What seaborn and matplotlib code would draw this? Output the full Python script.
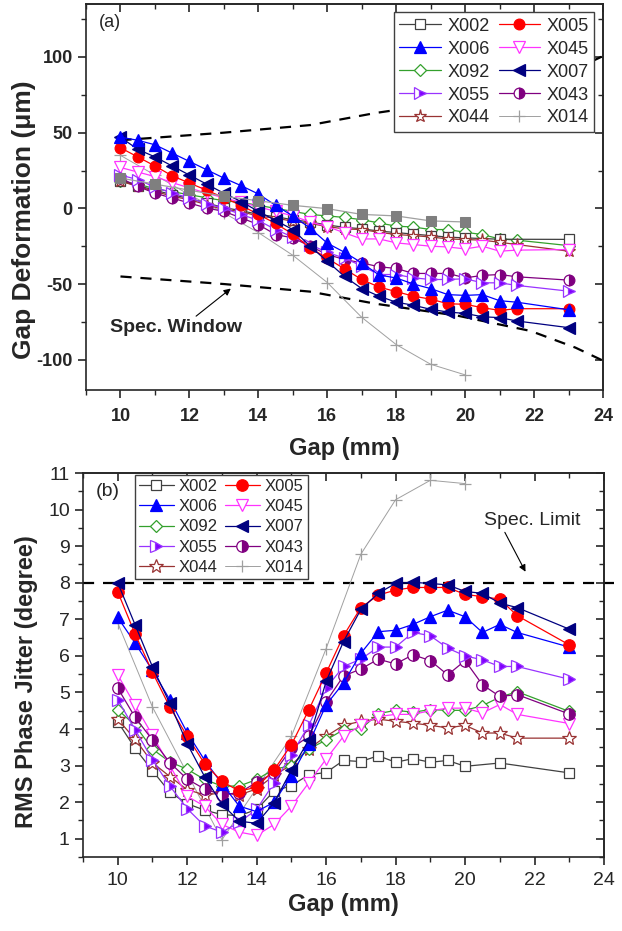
import matplotlib
matplotlib.use('Agg')
import matplotlib.pyplot as plt
from matplotlib.ticker import MultipleLocator
import numpy as np
import seaborn as sns

sns.set_style('ticks')
plt.rcParams['font.family'] = ['Liberation Sans', 'DejaVu Sans']
plt.rcParams['axes.unicode_minus'] = False

# gap positions (mm)
gap = [10, 10.5, 11, 11.5, 12, 12.5, 13, 13.5, 14, 14.5, 15, 15.5, 16, 16.5,
       17, 17.5, 18, 18.5, 19, 19.5, 20, 20.5, 21, 21.5, 23]
gap_x002 = [10, 10.5, 11, 11.5, 12, 12.5, 13, 13.5, 14, 14.5, 15, 15.5, 16, 16.5,
            17, 17.5, 18, 18.5, 19, 19.5, 20, 21, 23]
gap_x014 = [10, 11, 12, 13, 14, 15, 16, 17, 18, 19, 20]
gap_x014_b = [10, 11, 13, 15, 16, 17, 18, 19, 20]
gap_extra = [10, 11, 12, 13, 14, 15, 16, 17, 18, 19, 20]

# (a) gap deformation (um)
def_x002 = [18, 15, 12, 9, 6.5, 3.5, 0.5, -1.5, -4, -5.5, -7.5, -9, -11, -12.5,
            -13.5, -15, -16, -17, -18, -19, -19.5, -20.4, -20.5]
def_x005 = [40, 34, 28, 21.5, 16.7, 12, 7, 2, -4, -10, -17, -26, -33, -40, -47,
            -52, -55, -58, -60, -63, -63.4, -65.6, -67.4, -66.3, -66.3]
def_x006 = [47, 45, 42, 36.5, 31, 25.5, 20, 15, 9.5, 2, -5, -13, -23, -29, -36,
            -44, -46, -50, -53, -57, -57.5, -57, -61, -62, -67]
def_x045 = [27, 24, 21, 17, 13.5, 10, 7, 4, 1, -2, -5, -9, -12, -16.2, -20.2,
            -20.2, -22.8, -23.9, -25, -25.5, -26.8, -25, -28.3, -27.6, -27.2]
def_x092 = [18, 16, 13, 11, 9, 7, 5, 4, 2, 0, -2, -4, -5, -6, -7.5, -9.6, -11.8,
            -12.3, -14, -14, -15.8, -17.3, -20.2, -21, -24.6]
def_x007 = [47, 39, 34, 28, 22, 16, 10, 4.5, -2, -8, -14, -25, -35, -45, -53,
            -58, -62, -64, -66.7, -68.5, -69.4, -71.6, -72.2, -74.4, -78.8]
def_x055 = [22, 19, 14, 10, 7, 3, 0, -4, -8, -14, -19, -24, -29, -33, -38, -43.7,
            -43.7, -45.9, -47, -47, -46.5, -49.2, -49.2, -50.9, -54.7]
def_x043 = [20, 14.5, 10, 6.8, 3.5, 0.2, -2, -6.3, -10.7, -17.3, -19.5, -25,
            -30.5, -33.8, -36, -38.6, -39.7, -43, -43, -43, -45.9, -44.3, -43.7,
            -45.2, -47.4]
def_x044 = [18, 14.5, 11.2, 8, 5.7, 2.4, -0.9, -2, -5.3, -6.3, -8.6, -10, -12,
            -13.6, -14, -15.8, -17.3, -18, -18.9, -20.2, -20.6, -21, -22.4, -23.9,
            -28.3]
def_x014 = [35, 22, 9, -3, -16, -31, -49, -72, -90, -103, -110]
def_extra = [20, 16, 12, 8, 5, 2, -0.2, -4, -5, -8.3, -9]

# spec window (a)
spec_gap = [10, 13, 15.5, 17.4, 19.8, 21.9, 23.2, 24.5]
spec_lo = [-45, -50, -55, -63, -71, -81, -92, -106]
spec_hi = [-v for v in spec_lo]

# (b) RMS phase jitter (degree)
jit_x002 = [4.2, 3.47, 2.86, 2.27, 1.96, 1.78, 1.66, 1.63, 1.8, 2.3, 2.45, 2.75,
            2.81, 3.14, 3.11, 3.27, 3.09, 3.19, 3.09, 3.14, 2.98, 3.07, 2.8]
jit_x005 = [7.75, 6.6, 5.55, 4.6, 3.8, 3.05, 2.57, 2.3, 2.41, 2.88, 3.57, 4.52,
            5.53, 6.55, 7.32, 7.66, 7.8, 7.87, 7.87, 7.87, 7.68, 7.62, 7.55, 7.1, 6.3]
jit_x006 = [7.05, 6.35, 5.6, 4.8, 3.9, 3.15, 2.5, 1.89, 1.74, 2.0, 2.72, 3.6,
            4.66, 5.26, 6.07, 6.66, 6.7, 6.86, 7.07, 7.25, 7.07, 6.64, 6.86, 6.64, 6.24]
jit_x045 = [5.48, 4.65, 3.83, 3.0, 2.16, 1.89, 1.39, 1.18, 1.09, 1.39, 1.89, 2.53,
            3.18, 3.8, 4.1, 4.34, 4.4, 4.4, 4.5, 4.57, 4.57, 4.44, 4.67, 4.4, 4.15]
jit_x092 = [4.53, 4.1, 3.45, 3.1, 2.9, 2.62, 2.44, 2.44, 2.62, 2.9, 3.0, 3.45,
            3.7, 3.98, 4.0, 4.42, 4.51, 4.46, 4.53, 4.51, 4.51, 4.64, 4.87, 5.02, 4.48]
jit_x007 = [8.0, 6.85, 5.7, 4.7, 3.6, 2.7, 1.94, 1.48, 1.42, 1.98, 2.88, 3.7,
            5.3, 6.39, 7.27, 7.71, 7.98, 8.01, 7.98, 7.94, 7.76, 7.71, 7.44, 7.32, 6.73]
jit_x055 = [4.8, 3.98, 3.16, 2.44, 1.82, 1.35, 1.18, 1.45, 1.8, 2.53, 3.3, 4.1,
            5.12, 5.71, 5.91, 6.24, 6.24, 6.64, 6.55, 6.21, 6.0, 5.89, 5.71, 5.71, 5.36]
jit_x043 = [5.12, 4.32, 3.7, 3.08, 2.63, 2.36, 2.2, 2.26, 2.54, 2.8, 3.47, 3.8,
            4.75, 5.45, 5.64, 5.91, 5.78, 6.03, 5.87, 5.48, 5.87, 5.21, 4.89, 4.94, 4.41]
jit_x044 = [4.27, 3.72, 3.08, 2.7, 2.34, 2.2, 2.25, 2.2, 2.36, 2.73, 3.02, 3.46,
            3.8, 4.1, 4.21, 4.27, 4.21, 4.16, 4.1, 4.03, 4.1, 3.89, 3.89, 3.75, 3.75]
jit_x014 = [6.9, 4.6, 0.97, 3.8, 6.2, 8.78, 10.27, 10.8, 10.71]
spec_limit = 8

# style of each sample
styles = {
    'X002': dict(color='#404040', marker='s', mfc='white', fs='full', ms=1.0),
    'X005': dict(color='#FF0000', marker='o', mfc='#FF0000', fs='full', ms=1.1),
    'X006': dict(color='#0000FF', marker='^', mfc='#0000FF', fs='full', ms=1.15),
    'X045': dict(color='#FF33FF', marker='v', mfc='white', fs='full', ms=1.15),
    'X092': dict(color='#33A02C', marker='D', mfc='white', fs='full', ms=0.85),
    'X007': dict(color='#000080', marker='<', mfc='#000080', fs='full', ms=1.15),
    'X055': dict(color='#9933FF', marker='>', mfc='#8000FF', fs='right', ms=1.15),
    'X043': dict(color='#800080', marker='o', mfc='#800080', fs='right', ms=1.1),
    'X044': dict(color='#993333', marker='*', mfc='white', fs='full', ms=1.35),
    'X014': dict(color='#A0A0A0', marker='+', mfc='#A0A0A0', fs='full', ms=1.2),
}
order = ['X002', 'X006', 'X092', 'X055', 'X044', 'X005', 'X045', 'X007', 'X043', 'X014']


def draw(ax, name, x, y, size):
    s = styles[name]
    lw_line = 0.7 if name == 'X014' else 0.9
    sns.lineplot(x=x, y=y, ax=ax, color=s['color'], linewidth=lw_line,
                 marker=s['marker'], markersize=size * s['ms'],
                 markerfacecolor=s['mfc'], markeredgecolor=s['color'],
                 markerfacecoloralt='white', fillstyle=s['fs'],
                 markeredgewidth=0.9, label=name, sort=False, estimator=None)


def mirror_ticks(ax, xmaj, xmin, ymaj, ymin):
    ax.xaxis.set_major_locator(MultipleLocator(xmaj))
    ax.xaxis.set_minor_locator(MultipleLocator(xmin))
    ax.yaxis.set_major_locator(MultipleLocator(ymaj))
    ax.yaxis.set_minor_locator(MultipleLocator(ymin))
    ax.tick_params(which='major', direction='out', length=6, width=1.2)
    ax.tick_params(which='minor', direction='out', length=3.5, width=1.0)
    top = ax.secondary_xaxis('top')
    right = ax.secondary_yaxis('right')
    top.xaxis.set_major_locator(MultipleLocator(xmaj))
    top.xaxis.set_minor_locator(MultipleLocator(xmin))
    right.yaxis.set_major_locator(MultipleLocator(ymaj))
    right.yaxis.set_minor_locator(MultipleLocator(ymin))
    for sec in (top, right):
        sec.tick_params(which='major', direction='in', length=6, width=1.2,
                        labeltop=False, labelright=False)
        sec.tick_params(which='minor', direction='in', length=3.5, width=1.0)
        for sp in sec.spines.values():
            sp.set_linewidth(1.2)
    for sp in ax.spines.values():
        sp.set_visible(True)
        sp.set_linewidth(1.2)


fig = plt.figure(figsize=(6.22, 9.31), dpi=100)
ax1 = fig.add_axes([86 / 622, 1 - 390 / 931, 517 / 622, 386 / 931])
ax2 = fig.add_axes([83 / 622, 1 - 857 / 931, 521 / 622, 384 / 931])

# ---------------- (a) ----------------
data_a = {'X002': (gap_x002, def_x002), 'X005': (gap, def_x005),
          'X006': (gap, def_x006), 'X045': (gap, def_x045),
          'X092': (gap, def_x092), 'X007': (gap, def_x007),
          'X055': (gap, def_x055), 'X043': (gap, def_x043),
          'X044': (gap, def_x044), 'X014': (gap_x014, def_x014)}
ax1.plot(spec_gap, spec_lo, ls=(0, (5, 4)), color='black', lw=1.6, zorder=1)
ax1.plot(spec_gap, spec_hi, ls=(0, (5, 4)), color='black', lw=1.6, zorder=1)
for name in ['X014', 'X092', 'X002', 'X044', 'X045', 'X043', 'X055', 'X005', 'X007', 'X006']:
    draw(ax1, name, *data_a[name], size=7)
sns.lineplot(x=gap_extra, y=def_extra, ax=ax1, color='#A0A0A0', linewidth=0.9,
             marker='s', markersize=7, markerfacecolor='#7F7F7F',
             markeredgecolor='#7F7F7F', legend=False, sort=False, estimator=None)

ax1.set_xlim(9, 24)
ax1.set_ylim(-120, 135)
mirror_ticks(ax1, 2, 1, 50, 25)
ax1.tick_params(axis='x', which='major', pad=7)
for lab in ax1.get_xticklabels() + ax1.get_yticklabels():
    lab.set_fontweight('bold')
ax1.tick_params(labelsize=13)
ax1.set_xlabel('Gap (mm)', fontsize=17, fontweight='bold')
ax1.set_ylabel('Gap Deformation (μm)', fontsize=19, fontweight='bold')
ax1.xaxis.set_label_coords(0.5, -0.122)
ax1.yaxis.set_label_coords(-0.097, 0.44)
ax1.text(0.025, 0.975, '(a)', transform=ax1.transAxes, fontsize=13, va='top')
ax1.annotate('Spec. Window', xy=(13.2, -53), xytext=(9.7, -79), fontsize=14,
             fontweight='bold', va='center',
             arrowprops=dict(arrowstyle='-|>', color='black', lw=0.8,
                             shrinkA=0, shrinkB=0, mutation_scale=10,
                             relpos=(0.62, 1.0)))
h1, l1 = ax1.get_legend_handles_labels()
hd = dict(zip(l1, h1))
leg = ax1.legend([hd[n] for n in order], order, ncol=2, loc='upper right',
                 bbox_to_anchor=(0.99, 0.988), fontsize=13, frameon=True,
                 fancybox=False, edgecolor='#404040', framealpha=1.0,
                 handlelength=2.3, handletextpad=0.35, columnspacing=0.5,
                 labelspacing=0.33, borderpad=0.3, borderaxespad=0.2)
leg.get_frame().set_linewidth(1.0)

# ---------------- (b) ----------------
data_b = {'X002': (gap_x002, jit_x002), 'X005': (gap, jit_x005),
          'X006': (gap, jit_x006), 'X045': (gap, jit_x045),
          'X092': (gap, jit_x092), 'X007': (gap, jit_x007),
          'X055': (gap, jit_x055), 'X043': (gap, jit_x043),
          'X044': (gap, jit_x044), 'X014': (gap_x014_b, jit_x014)}
ax2.axhline(spec_limit, xmin=0, xmax=1.02, ls=(0, (5, 4)), color='black',
            lw=1.6, zorder=1, clip_on=False)
for name in ['X014', 'X002', 'X044', 'X092', 'X045', 'X043', 'X055', 'X006', 'X005', 'X007']:
    draw(ax2, name, *data_b[name], size=7.5)
ax2.set_xlim(9, 24)
ax2.set_ylim(0.5, 11)
mirror_ticks(ax2, 2, 1, 1, 0.5)
ax2.tick_params(labelsize=14)
ax2.tick_params(axis='x', which='major', pad=5)
ax2.set_xlabel('Gap (mm)', fontsize=17, fontweight='bold')
ax2.set_ylabel('RMS Phase Jitter (degree)', fontsize=17, fontweight='bold')
ax2.xaxis.set_label_coords(0.5, -0.094)
ax2.yaxis.set_label_coords(-0.086, 0.458)
ax2.text(0.025, 0.975, '(b)', transform=ax2.transAxes, fontsize=14, va='top')
ax2.annotate('Spec. Limit', xy=(21.74, 8.3), xytext=(20.54, 9.7), fontsize=14,
             va='center',
             arrowprops=dict(arrowstyle='-|>', color='black', lw=0.8,
                             shrinkA=0, shrinkB=0, mutation_scale=10,
                             relpos=(0.2, 0.0)))
h2, l2 = ax2.get_legend_handles_labels()
hd2 = dict(zip(l2, h2))
leg2 = ax2.legend([hd2[n] for n in order], order, ncol=2, loc='upper left',
                  bbox_to_anchor=(0.099, 0.996), fontsize=12, frameon=True,
                  fancybox=False, edgecolor='#404040', framealpha=1.0,
                  handlelength=2.1, handletextpad=0.3, columnspacing=0.4,
                  labelspacing=0.32, borderpad=0.25, borderaxespad=0.0)
leg2.get_frame().set_linewidth(1.0)

fig.savefig('out.png', dpi=100)
